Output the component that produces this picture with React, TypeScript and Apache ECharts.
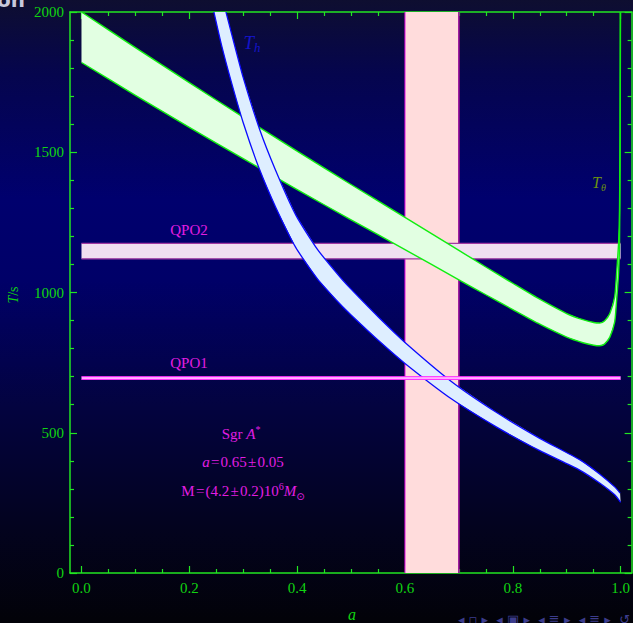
import React, { useEffect, useRef } from "react";
import * as echarts from "echarts";

type Pt = [number, number];

// ---- data (a, T[s]) ----
const thetaUpper: Pt[] = [
  [0, 2000], [0.1, 1873], [0.2, 1748], [0.3, 1625], [0.4, 1504], [0.5, 1385],
  [0.6, 1268], [0.7, 1150], [0.75, 1091], [0.8, 1033], [0.85, 976], [0.9, 925],
  [0.93, 903], [0.95, 893], [0.961, 891], [0.97, 898], [0.98, 925], [0.989, 984],
  [0.9926, 1070], [0.9963, 1180], [0.998, 1300], [0.999, 1600], [0.9995, 2000],
];
const thetaLower: Pt[] = [
  [0, 1820], [0.1, 1703], [0.2, 1589], [0.3, 1477], [0.4, 1367], [0.5, 1259],
  [0.6, 1153], [0.7, 1045], [0.75, 992], [0.8, 939], [0.85, 887], [0.9, 841],
  [0.93, 821], [0.95, 812], [0.961, 810], [0.97, 816], [0.98, 841], [0.989, 895],
  [0.9926, 972], [0.9963, 1073], [0.998, 1182], [0.999, 1455], [0.9995, 1818], [0.99975, 2000],
];
const hUpper: Pt[] = [
  [0.268, 2000], [0.277, 1933], [0.3, 1766], [0.33, 1584], [0.36, 1436], [0.3976, 1276],
  [0.438, 1153], [0.48, 1054], [0.5, 1012], [0.553, 908], [0.6, 822], [0.6866, 682],
  [0.77, 572], [0.85, 480], [0.924, 404], [0.961, 353], [0.989, 307], [0.999, 285],
];
const hLower: Pt[] = [
  [0.2456, 2000], [0.26, 1880], [0.277, 1757], [0.3, 1605], [0.33, 1440], [0.36, 1305],
  [0.3976, 1160], [0.438, 1048], [0.48, 958], [0.5, 920], [0.553, 825], [0.6, 747],
  [0.6866, 620], [0.77, 520], [0.85, 436], [0.924, 367], [0.961, 321], [0.989, 279], [1.0, 252],
];
const spinBand: Pt = [0.6, 0.7];   // a = 0.65 ± 0.05
const qpo2Band: Pt = [1120, 1175]; // T/s
const qpo1Band: Pt = [690, 700];   // T/s
const aRange: Pt = [0, 1];
const tRange: Pt = [0, 2000];

const xMajor = [0, 0.2, 0.4, 0.6, 0.8, 1.0];
const xMinor = [0.05, 0.1, 0.15, 0.25, 0.3, 0.35, 0.45, 0.5, 0.55, 0.65, 0.7, 0.75, 0.85, 0.9, 0.95];
const yMajor = [0, 500, 1000, 1500, 2000];
const yMinor = [100, 200, 300, 400, 600, 700, 800, 900, 1100, 1200, 1300, 1400, 1600, 1700, 1800, 1900];

const SERIF = "'Liberation Serif', 'Times New Roman', 'DejaVu Serif', serif";
const GREEN_LINE = "#22e622";
const GREEN_TEXT = "#11d411";
const MAGENTA = "#e21ee2";
const HS = "\u200A"; // hair space (math spacing around operators)
const BBOX: any = [[Infinity, Infinity], [-Infinity, -Infinity]];

type LineDef = { pts: Pt[]; stroke: string; width: number };

function shapeSeries(fillPts: Pt[], fill: string, lines: LineDef[], smooth: number) {
  return {
    type: "custom",
    coordinateSystem: "cartesian2d",
    xAxisIndex: 0,
    yAxisIndex: 0,
    silent: true,
    clip: true,
    data: [[0, 0]],
    renderItem: (_p: any, api: any) => {
      const poly = fillPts.map((p) => api.coord(p));
      const children: any[] = [
        { type: "polygon", shape: { points: poly }, style: { fill, stroke: null } },
      ];
      lines.forEach((l) => {
        const pts = l.pts.map((p) => api.coord(p));
        children.push({
          type: "polyline",
          shape: smooth > 0 ? { points: pts, smooth, smoothConstraint: BBOX } : { points: pts },
          style: { stroke: l.stroke, lineWidth: l.width, fill: null },
        });
      });
      return { type: "group", children };
    },
  };
}

function band(upper: Pt[], lower: Pt[], fill: string, stroke: string, width: number, smooth = 0.2) {
  return shapeSeries(upper.concat(lower.slice().reverse()), fill, [
    { pts: upper, stroke, width },
    { pts: lower, stroke, width },
  ], smooth);
}

function hBand(t: Pt, fill: string, stroke: string, width: number) {
  const lo: Pt[] = [[aRange[0], t[0]], [aRange[1], t[0]]];
  const hi: Pt[] = [[aRange[0], t[1]], [aRange[1], t[1]]];
  return band(hi, lo, fill, stroke, width, 0);
}

function vBand() {
  const l: Pt[] = [[spinBand[0], tRange[0]], [spinBand[0], tRange[1]]];
  const r: Pt[] = [[spinBand[1], tRange[0]], [spinBand[1], tRange[1]]];
  return shapeSeries(l.concat(r.slice().reverse()), "#ffdcdc", [
    { pts: l, stroke: "#e000e0", width: 1 },
    { pts: r, stroke: "#9a109a", width: 1.6 },
  ], 0);
}

const X_MIN = -0.0213;
const X_MAX = 1.0204;

function xAxisDef(position: string, values: number[], len: number, labels: boolean, line: boolean) {
  return {
    type: "value",
    min: X_MIN,
    max: X_MAX,
    position,
    axisLine: { show: line, onZero: false, lineStyle: { color: GREEN_LINE, width: 1.5 } },
    axisTick: { show: true, inside: true, length: len, customValues: values, lineStyle: { color: GREEN_LINE, width: 1.2 } },
    axisLabel: labels
      ? { show: true, customValues: values, formatter: (v: number) => v.toFixed(1), color: GREEN_TEXT, fontFamily: SERIF, fontSize: 15, margin: 7 }
      : { show: false },
    splitLine: { show: false },
  };
}

function yAxisDef(position: string, values: number[], len: number, labels: boolean, line: boolean) {
  return {
    type: "value",
    min: tRange[0],
    max: tRange[1],
    position,
    axisLine: { show: line, onZero: false, lineStyle: { color: GREEN_LINE, width: 1.5 } },
    axisTick: { show: true, inside: true, length: len, customValues: values, lineStyle: { color: GREEN_LINE, width: 1.2 } },
    axisLabel: labels
      ? { show: true, customValues: values, formatter: (v: number) => String(v), color: GREEN_TEXT, fontFamily: SERIF, fontSize: 15, margin: 6 }
      : { show: false },
    splitLine: { show: false },
  };
}

export default function App() {
  const ref = useRef<HTMLDivElement>(null);
  useEffect(() => {
    if (!ref.current) return;
    const chart = echarts.init(ref.current, null, { renderer: "svg" });
    const text = (x: number, y: number, t: string, style: any, extra: any = {}) => ({
      type: "text",
      x,
      y,
      silent: true,
      style: { text: t, fontFamily: SERIF, align: "center", verticalAlign: "middle", ...style },
      ...extra,
    });
    const mg = (size: number) => ({
      i: { fontStyle: "italic", fontSize: size, fontFamily: SERIF, fill: MAGENTA, lineHeight: 20 },
      sup: { fontSize: 10, fontFamily: SERIF, fill: MAGENTA, lineHeight: 12, verticalAlign: "top" },
      sub: { fontSize: 10, fontFamily: "'DejaVu Sans', sans-serif", fill: MAGENTA, lineHeight: 12, verticalAlign: "bottom" },
    });
    chart.setOption({
      animation: false,
      backgroundColor: "transparent",
      grid: { left: 70, right: 1, top: 12, bottom: 50, containLabel: false },
      xAxis: [
        xAxisDef("bottom", xMajor, 7, true, true),
        xAxisDef("bottom", xMinor, 4, false, false),
        xAxisDef("top", xMajor, 7, false, true),
        xAxisDef("top", xMinor, 4, false, false),
      ],
      yAxis: [
        yAxisDef("left", yMajor, 7, true, true),
        yAxisDef("left", yMinor, 4, false, false),
        yAxisDef("right", yMajor, 7, false, true),
        yAxisDef("right", yMinor, 4, false, false),
      ],
      series: [
        vBand(),
        hBand(qpo2Band, "#f0e0f0", "#a23aa2", 1.2),
        band(thetaUpper, thetaLower, "#e2ffe2", "#10ee10", 1.4),
        band(hUpper, hLower, "#deeeff", "#0a0aff", 1.3),
        hBand(qpo1Band, "#ffb4ff", "#ff2cff", 1),
      ],
      graphic: [
        text(11, 0, "on", { fontFamily: "'DejaVu Sans', sans-serif", fontWeight: "bold", fontSize: 20, fill: "#c8c8dc" }),
        text(13, 295, "{i|T}/s", {
          fontSize: 14, fill: GREEN_TEXT,
          rich: { i: { fontStyle: "italic", fontSize: 14, fontFamily: SERIF, fill: GREEN_TEXT } },
        }, { rotation: Math.PI / 2 }),
        text(352, 614, "a", { fontSize: 16, fontStyle: "italic", fill: GREEN_TEXT }),
        text(189, 230, "QPO2", { fontSize: 15, fill: MAGENTA }),
        text(189, 363, "QPO1", { fontSize: 15, fill: MAGENTA }),
        text(241, 434, "Sgr {i|A}{sup|*}", {
          fontSize: 15, fill: MAGENTA, lineHeight: 20, rich: mg(15),
        }),
        text(243, 462, `{i|a}${HS}=${HS}0.65${HS}±${HS}0.05`, {
          fontSize: 15, fill: MAGENTA, lineHeight: 20, rich: mg(15),
        }),
        text(243, 491, `M${HS}=${HS}(4.2${HS}±${HS}0.2)10{sup|6}{i|M}{sub|⊙}`, {
          fontSize: 15, fill: MAGENTA, lineHeight: 20, rich: mg(15),
        }),
        text(252, 42, "{t|T}{s|h}", {
          fill: "#1414c8",
          rich: {
            t: { fontStyle: "italic", fontSize: 19, fontFamily: SERIF, fill: "#1414c8", lineHeight: 24 },
            s: { fontStyle: "italic", fontSize: 13, fontFamily: SERIF, fill: "#1414c8", lineHeight: 14, verticalAlign: "bottom" },
          },
        }),
        text(599, 182, "{t|T}{s|θ}", {
          fill: "#6a9010",
          rich: {
            t: { fontStyle: "italic", fontSize: 16, fontFamily: SERIF, fill: "#6a9010", lineHeight: 20 },
            s: { fontStyle: "italic", fontSize: 10, fontFamily: SERIF, fill: "#6a9010", lineHeight: 11, verticalAlign: "bottom" },
          },
        }),
        text(544, 619, "◂ ▫ ▸  ◂ ▣ ▸  ◂ ≣ ▸  ◂ ≣ ▸  ↺", {
          fontFamily: "'DejaVu Sans', sans-serif", fontSize: 13, fill: "#3c3c8c",
        }),
      ],
    });
    return () => chart.dispose();
  }, []);
  return (
    <div
      style={{
        position: "fixed",
        left: 0,
        top: 0,
        width: 633,
        height: 623,
        background:
          "linear-gradient(to bottom, #0e0e30 0%, #05054e 12%, #00006e 32%, #000068 45%, #030340 65%, #03031e 85%, #020208 100%)",
      }}
    >
      <div ref={ref} style={{ width: 633, height: 623 }} />
    </div>
  );
}
